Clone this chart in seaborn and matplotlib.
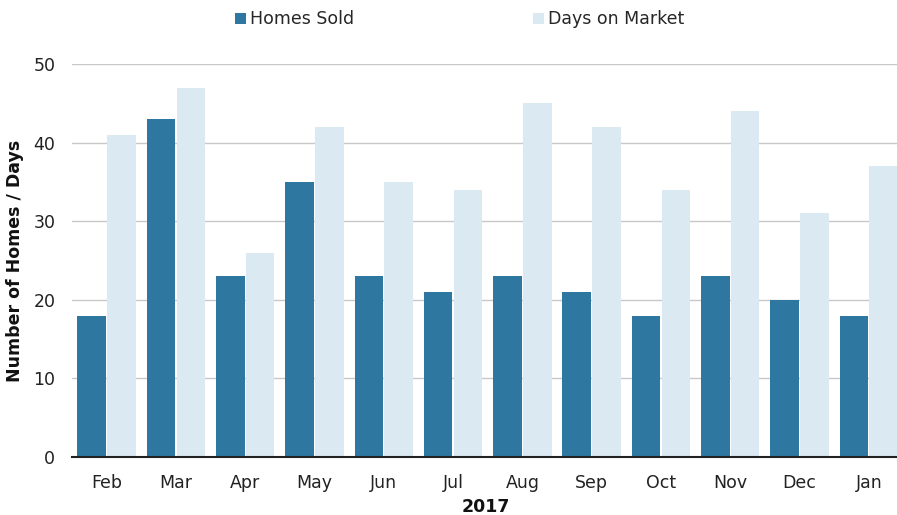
import matplotlib
matplotlib.use("Agg")
import matplotlib.pyplot as plt
import seaborn as sns
import pandas as pd
from matplotlib.patches import Patch

months = ["Feb", "Mar", "Apr", "May", "Jun", "Jul", "Aug", "Sep", "Oct", "Nov", "Dec", "Jan"]
homes_sold = [18, 43, 23, 35, 23, 21, 23, 21, 18, 23, 20, 18]
days_on_market = [41, 47, 26, 42, 35, 34, 45, 42, 34, 44, 31, 37]
series_names = ["Homes Sold", "Days on Market"]
colors = ["#2e77a0", "#dbe9f2"]

df = pd.DataFrame({
    "month": months * 2,
    "value": homes_sold + days_on_market,
    "series": [series_names[0]] * len(months) + [series_names[1]] * len(months),
})

sns.set_theme(style="white")
plt.rcParams["font.family"] = ["DejaVu Sans"]

fig = plt.figure(figsize=(8.97, 5.15), dpi=100)
ax = fig.add_axes([72 / 897, 58 / 515, (900 - 72) / 897, (457 - 64) / 515])

sns.barplot(data=df, x="month", y="value", hue="series", order=months,
            hue_order=series_names, palette=colors, width=0.86, gap=0.04,
            saturation=1, ax=ax, legend=False, linewidth=0)

ax.set_ylim(0, 50)
ax.set_xlim(-0.5, 11.45)
ax.set_yticks([0, 10, 20, 30, 40, 50])
ax.yaxis.grid(True, color="#c8c8c8", linewidth=1)
ax.set_axisbelow(True)
for s in ["left", "right", "top"]:
    ax.spines[s].set_visible(False)
ax.spines["bottom"].set_color("#222222")
ax.spines["bottom"].set_linewidth(1.5)
ax.tick_params(axis="both", length=0, labelsize=12.5, colors="#222222")
ax.tick_params(axis="x", pad=12)
ax.tick_params(axis="y", pad=12)
ax.set_xlabel("2017", fontsize=12.5, fontweight="bold", color="#111111", labelpad=4.5)
ax.set_ylabel("Number of Homes / Days", fontsize=12.5, fontweight="bold", color="#111111", labelpad=7)

handles = [Patch(facecolor=c, edgecolor="none") for c in colors]
fig.legend(handles, series_names, loc="upper left", bbox_to_anchor=(225 / 897, 1.0),
           ncol=2, frameon=False, fontsize=12.5, handlelength=0.6, handleheight=0.6,
           handletextpad=0.25, columnspacing=10.3, borderaxespad=0.2)

fig.savefig("out.png", dpi=100)
